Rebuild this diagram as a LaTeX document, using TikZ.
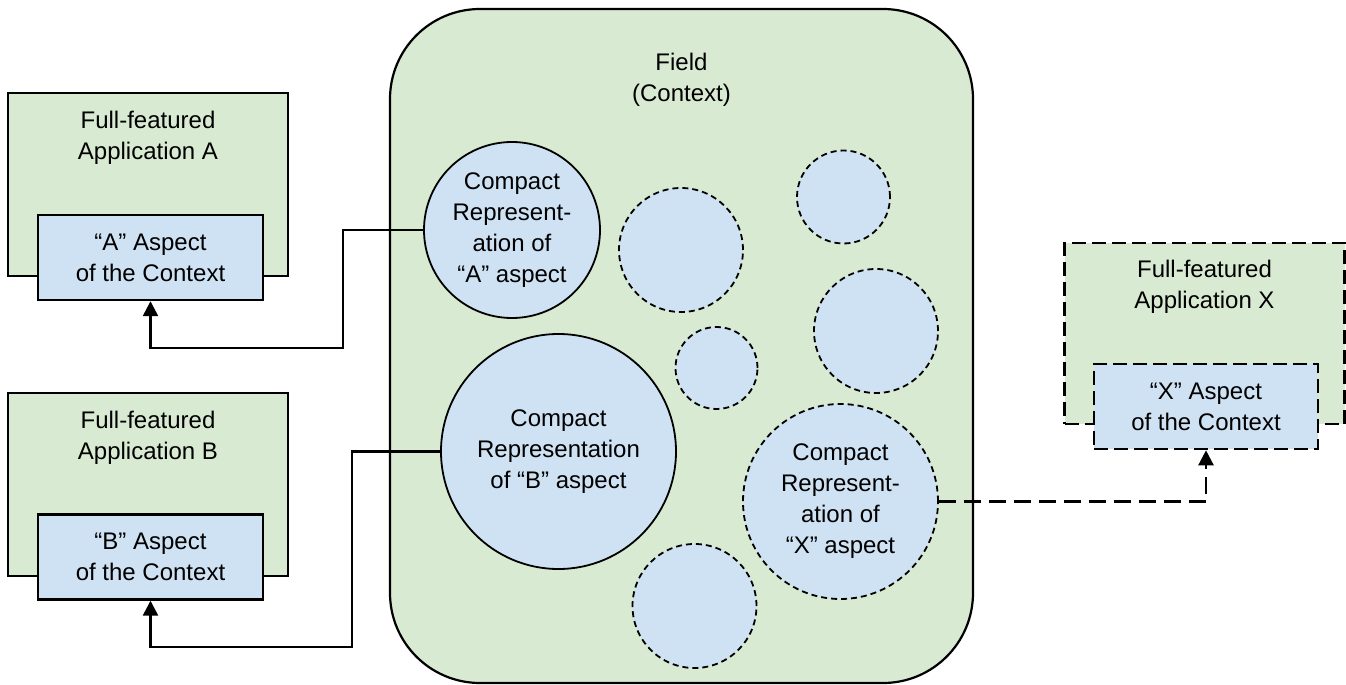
\documentclass[tikz,border=0pt]{standalone}
\usepackage{fontspec}
\setmainfont{Liberation Sans}
\usetikzlibrary{arrows.meta}
\definecolor{fgreen}{HTML}{D9EAD3}
\definecolor{fblue}{HTML}{CFE2F3}
\begin{document}
\begin{tikzpicture}[x=0.5pt,y=-0.5pt,
  txt/.style={font=\fontsize{12}{15.5}\selectfont, align=center, inner sep=0pt},
  appbox/.style={draw, line width=1.2pt, fill=fgreen, minimum width=140pt, minimum height=91.5pt, inner sep=0pt},
  aspbox/.style={draw, line width=1.2pt, fill=fblue, minimum width=112.5pt, minimum height=42.5pt, inner sep=0pt, txt},
  dashbox/.style={line width=1.3pt, dash pattern=on 7pt off 3pt},
  field/.style={draw, line width=1.1pt, fill=fgreen, minimum width=291.5pt, minimum height=337pt, rounded corners=45pt, inner sep=0pt},
  repr/.style={circle, draw, line width=0.9pt, fill=fblue, inner sep=0pt, txt},
  dcirc/.style={repr, dash pattern=on 3pt off 2pt},
  conn/.style={line width=1.2pt, -{Triangle[width=7.5pt,length=7.5pt]}},
]
\useasboundingbox (0,0) rectangle (1346,685);

% field
\node[field] (field) at (681.5,346) {};
\node[txt] (fieldt) at (681.5,80) {Field\\(Context)};

% representation circles
\node[repr, minimum size=88pt] (cA) at (512,230) {Compact\\Represent-\\ation of\\“A” aspect};
\node[repr, minimum size=117.5pt] (cB) at (558.5,451.5) {Compact\\Representation\\of “B” aspect};
\node[dcirc, minimum size=97.5pt] (cX) at (840.5,501.5) {Compact\\Represent-\\ation of\\“X” aspect};
\node[dcirc, minimum size=62pt] (d1) at (681,250) {};
\node[dcirc, minimum size=41pt] (d2) at (716.5,368) {};
\node[dcirc, minimum size=46.5pt] (d3) at (843.5,197) {};
\node[dcirc, minimum size=62pt] (d4) at (876,331) {};
\node[dcirc, minimum size=62pt] (d5) at (694.5,606) {};

% application A
\node[appbox] (appA) at (148,184.5) {};
\node[txt] (appAt) at (148,138) {Full-featured\\Application A};
\node[aspbox] (inA) at (150.5,257.5) {“A” Aspect\\of the Context};

% application B
\node[appbox] (appB) at (148,484.5) {};
\node[txt] (appBt) at (148,438) {Full-featured\\Application B};
\node[aspbox] (inB) at (150.5,557) {“B” Aspect\\of the Context};

% application X
\node[appbox, dashbox, minimum height=90.5pt] (appX) at (1204.5,333.5) {};
\node[txt] (appXt) at (1204.5,287) {Full-featured\\Application X};
\node[aspbox, dashbox, minimum width=112pt] (inX) at (1206,406.5) {“X” Aspect\\of the Context};

% connectors
\coordinate (jA) at (343,348);
\coordinate (jB) at (352,647);
\draw[conn] (cA.west) -| (jA) -| (inA.south);
\draw[conn] (cB.west) -| (jB) -| (inB.south);
\draw[conn, dash pattern=on 8.5pt off 4pt] (cX.east) -| (inX.south);
\end{tikzpicture}
\end{document}
